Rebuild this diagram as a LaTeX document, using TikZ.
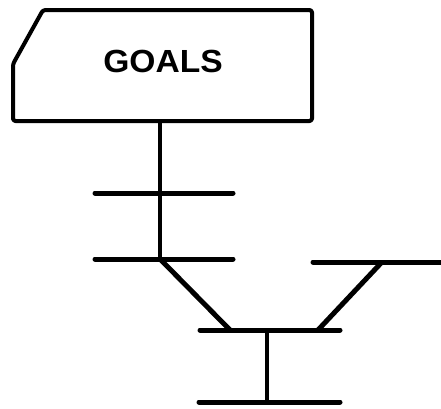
\documentclass[tikz,border=0pt]{standalone}
\usepackage{fontspec}
\setmainfont{Liberation Sans}
\begin{document}
\begin{tikzpicture}[x=1pt,y=-1pt,
  bar/.style={line width=5pt,line cap=round},
  stem/.style={line width=3.6pt},
  boxline/.style={line width=4pt,line join=round,rounded corners=2.5pt}]
\useasboundingbox (0,0) rectangle (441,408);
% GOALS box
\draw[boxline] (43,10) -- (312,10) -- (312,121) -- (13,121) -- (13,64) -- cycle;
\node[font=\bfseries\fontsize{32}{32}\selectfont,xscale=1.05] (goals) at (163,61) {GOALS};
% coordinates
\coordinate (s0) at (160,121);
\coordinate (s2) at (160,259);
\coordinate (a1) at (95,193);
\coordinate (b1) at (233,193);
\coordinate (a2) at (95,259);
\coordinate (b2) at (233,259);
\coordinate (r1) at (313,262);
\coordinate (r2) at (441,262);
\coordinate (rj) at (382,262);
\coordinate (m1) at (200,330);
\coordinate (m2) at (340,330);
\coordinate (ml) at (230,330);
\coordinate (mr) at (318,330);
\coordinate (mc) at (267,330);
\coordinate (bc) at (267,402);
\coordinate (b3) at (199,402);
\coordinate (b4) at (340,402);
% connectors
\draw[stem] (s0) -- (s2);
\draw[bar] (a1) -- (b1);
\draw[bar] (a2) -- (b2);
\draw[bar] (r1) -- (r2);
\draw[bar,line cap=butt] (s2) -- (ml);
\draw[bar,line cap=butt] (rj) -- (mr);
\draw[bar] (m1) -- (m2);
\draw[stem] (mc) -- (bc);
\draw[bar] (b3) -- (b4);
\end{tikzpicture}
\end{document}
